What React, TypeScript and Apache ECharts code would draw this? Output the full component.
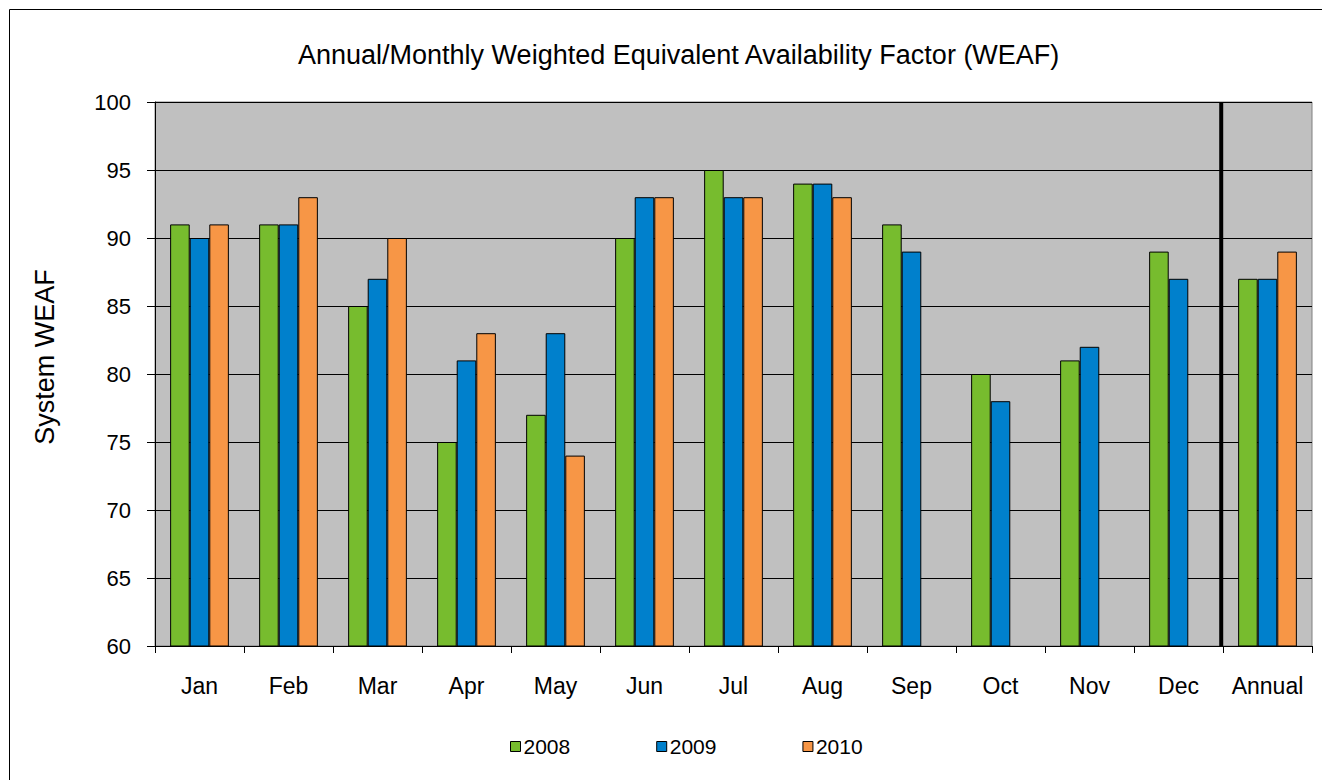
import React, { useEffect, useRef } from "react";
import * as echarts from "echarts";

const categories = ["Jan", "Feb", "Mar", "Apr", "May", "Jun", "Jul", "Aug", "Sep", "Oct", "Nov", "Dec", "Annual"];
const s2008 = [91, 91, 85, 75, 77, 90, 95, 94, 91, 80, 81, 89, 87];
const s2009 = [90, 91, 87, 81, 83, 93, 93, 94, 89, 78, 82, 87, 87];
const s2010: (number | string)[] = [91, 93, 90, 83, 74, 93, 93, 93, "-", "-", "-", "-", 89];
const separatorPos = 11.98;
const yTicks = { min: 60, max: 100, interval: 5 };

export default function App() {
  const ref = useRef<HTMLDivElement>(null);
  useEffect(() => {
    if (!ref.current) return;
    const chart = echarts.init(ref.current, null, { renderer: "svg" });
    const font = "'Liberation Sans', Arial, sans-serif";
    const barStyle = (c: string) => ({ color: c, borderColor: "#000", borderWidth: 1 });
    chart.setOption({
      animation: false,
      backgroundColor: "#fff",
      textStyle: { fontFamily: font, color: "#000" },
      graphic: [
        {
          type: "rect",
          shape: { x: 9.5, y: 9.5, width: 1340, height: 800 },
          style: { fill: "none", stroke: "#000", lineWidth: 1 },
          silent: true,
        },
        {
          type: "text",
          x: 45,
          y: 357,
          rotation: Math.PI / 2,
          style: {
            text: "System WEAF",
            fontSize: 27,
            fontFamily: font,
            fill: "#000",
            align: "center",
            verticalAlign: "middle",
          },
          silent: true,
        },
      ],
      title: {
        text: "Annual/Monthly Weighted Equivalent Availability Factor (WEAF)",
        left: 298,
        top: 41,
        padding: 0,
        textStyle: { fontSize: 27, fontWeight: "normal", color: "#000", fontFamily: font },
      },
      legend: {
        bottom: 23,
        left: 510,
        padding: 0,
        icon: "rect",
        itemWidth: 10,
        itemHeight: 10,
        itemGap: 86,
        data: ["2008", "2009", "2010"],
        textStyle: { fontSize: 21, color: "#000", fontFamily: font, padding: [0, 0, 0, -2] },
        itemStyle: { borderColor: "#000", borderWidth: 1 },
      },
      grid: {
        left: 155,
        right: 10,
        top: 102,
        bottom: 134,
        show: true,
        backgroundColor: "#C0C0C0",
        borderColor: "#808080",
        borderWidth: 1,
      },
      xAxis: [
        {
          type: "category",
          data: categories,
          axisLine: { lineStyle: { color: "#000", width: 1 } },
          axisTick: { show: true, length: 7, lineStyle: { color: "#000" }, alignWithLabel: false },
          axisLabel: { fontSize: 23, color: "#000", margin: 28, fontFamily: font, interval: 0 },
          splitLine: { show: false },
        },
        {
          type: "value",
          min: 0,
          max: categories.length,
          show: false,
        },
      ],
      yAxis: {
        type: "value",
        min: yTicks.min,
        max: yTicks.max,
        interval: yTicks.interval,
        axisLine: { show: true, lineStyle: { color: "#000", width: 1 } },
        axisTick: { show: true, length: 8, lineStyle: { color: "#000" } },
        axisLabel: { fontSize: 22, color: "#000", margin: 24, fontFamily: font },
        splitLine: { show: true, lineStyle: { color: "#000", width: 1 } },
      },
      series: [
        { name: "2008", type: "bar", data: s2008, itemStyle: barStyle("#77BC2E"), barGap: "0%", barCategoryGap: "34%" },
        { name: "2009", type: "bar", data: s2009, itemStyle: barStyle("#0080CC"), barGap: "0%", barCategoryGap: "34%" },
        { name: "2010", type: "bar", data: s2010, itemStyle: barStyle("#F79646"), barGap: "0%", barCategoryGap: "34%" },
        {
          name: "separator",
          type: "line",
          xAxisIndex: 1,
          data: [[separatorPos, yTicks.min], [separatorPos, yTicks.max]],
          symbol: "none",
          lineStyle: { color: "#000", width: 4 },
          silent: true,
          z: 5,
        },
      ],
    });
    return () => chart.dispose();
  }, []);
  return <div ref={ref} style={{ position: "fixed", left: 0, top: 0, width: 1322, height: 780 }} />;
}
